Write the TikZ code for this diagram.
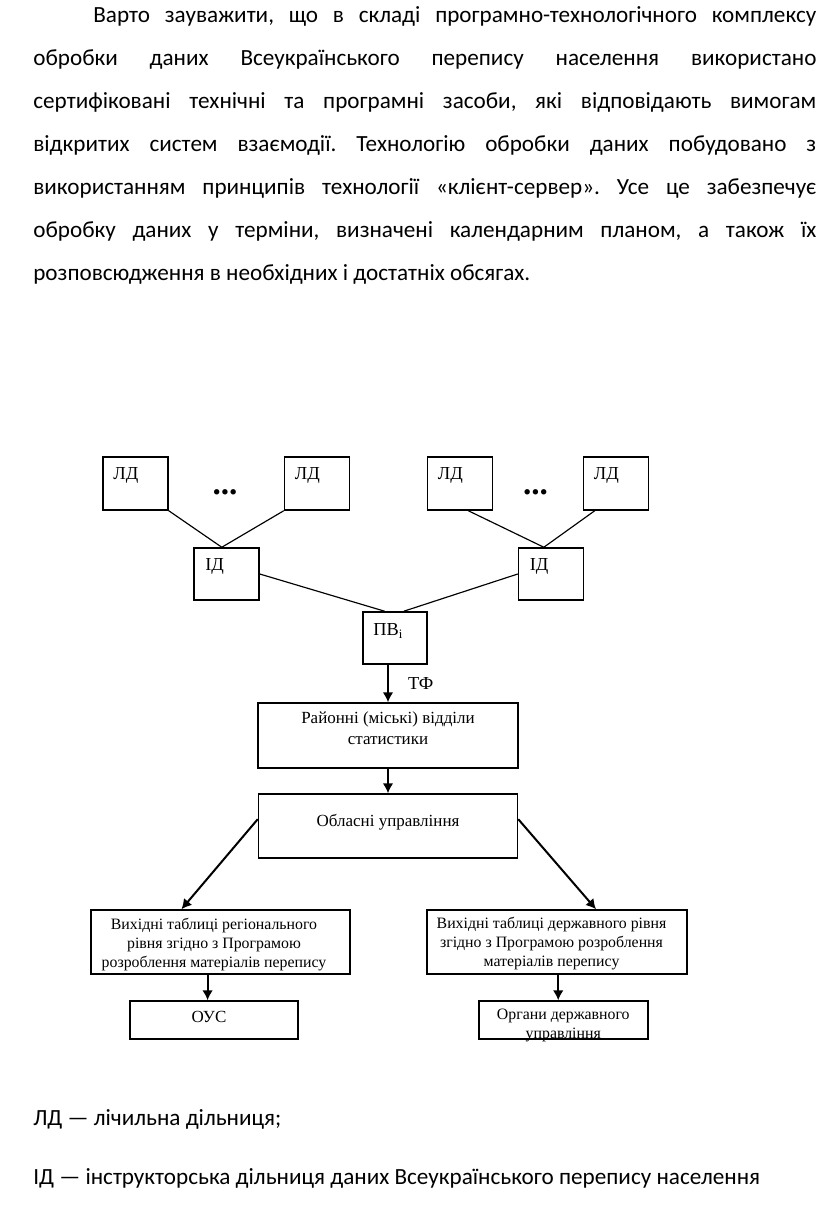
\documentclass[tikz,border=0pt]{standalone}
\usepackage{fontspec}
\setmainfont{Liberation Serif}
\newfontfamily\CARLITO{Carlito}
\frenchspacing
\newcommand{\PX}{0.6pt}
\newcommand{\PAGEW}{816}
\newcommand{\PAGEH}{1224}
\newcommand{\LEFTX}{33}
\newcommand{\INDENTX}{93}
\newcommand{\BOXW}{65}
\newcommand{\BOXH}{53}
\newcommand{\WIDEW}{260}
\newcommand{\WIDEH}{64}
\newcommand{\SMALLW}{168}
\newcommand{\SMALLH}{38}
\newcommand{\LDY}{483.5}
\newcommand{\LDAX}{135.5}
\newcommand{\LDBX}{317}
\newcommand{\LDCX}{460}
\newcommand{\LDDX}{616}
\newcommand{\IDY}{574}
\newcommand{\IDAX}{226.5}
\newcommand{\IDBX}{551}
\newcommand{\PVX}{395}
\newcommand{\PVY}{638}
\newcommand{\CENTREX}{388}
\newcommand{\RVY}{735.5}
\newcommand{\OUY}{826}
\newcommand{\VTY}{942}
\newcommand{\VTAX}{220.5}
\newcommand{\VTBX}{557}
\newcommand{\ENDY}{1020}
\newcommand{\OUSX}{214}
\newcommand{\ORGX}{563.5}
\usetikzlibrary{positioning}
\usetikzlibrary{arrows.meta}

\begin{document}
\begin{tikzpicture}[x=\PX,y=-\PX]
\tikzstyle{every node}=[inner sep=0pt]
\tikzstyle{plainbox}=[draw, line width=0.9pt, minimum width=\BOXW*\PX, minimum height=\BOXH*\PX]
\tikzstyle{widebox}=[draw, line width=0.9pt, minimum width=\WIDEW*\PX, minimum height=\WIDEH*\PX]
\tikzstyle{smallbox}=[draw, line width=0.9pt, minimum width=\SMALLW*\PX, minimum height=\SMALLH*\PX]
\tikzstyle{cornertext}=[anchor=north west, font=\fontsize{11}{13}\selectfont]
\tikzstyle{boxtext}=[align=center, font=\fontsize{10.2}{12.6}\selectfont]
\tikzstyle{tabletext}=[align=center, font=\fontsize{9.5}{11.4}\selectfont]
\tikzstyle{parline}=[anchor=base west, font=\CARLITO\fontsize{13.9}{16.7}\selectfont]
\tikzstyle{dots}=[anchor=base, font=\fontsize{20}{20}\bfseries]
\tikzstyle{link}=[line width=0.7pt]
\tikzstyle{flow}=[line width=1.2pt, -{Latex[length=6pt,width=6.5pt]}]
	\useasboundingbox (0,0) rectangle ({\PAGEW},{\PAGEH});

% Paragraph
	\node[parline] (line1) at ({\INDENTX},22.7) {\hbox to 433.8pt{Варто зауважити, що в складі програмно-технологічного комплексу}};
	\node[parline] (line2) at ({\LEFTX},65.7) {\hbox to 469.8pt{обробки даних Всеукраїнського перепису населення використано}};
	\node[parline] (line3) at ({\LEFTX},108.7) {\hbox to 469.8pt{сертифіковані технічні та програмні засоби, які відповідають вимогам}};
	\node[parline] (line4) at ({\LEFTX},151.7) {\hbox to 469.8pt{відкритих систем взаємодії. Технологію обробки даних побудовано з}};
	\node[parline] (line5) at ({\LEFTX},194.7) {\hbox to 469.8pt{використанням принципів технології «клієнт-сервер». Усе це забезпечує}};
	\node[parline] (line6) at ({\LEFTX},237.7) {\hbox to 469.8pt{обробку даних у терміни, визначені календарним планом, а також їх}};
	\node[parline] (line7) at ({\LEFTX},280.7) {розповсюдження в необхідних і достатніх обсягах.};

% Counting districts
	\node[plainbox] (LDA) at ({\LDAX},{\LDY}) {};
	\node[plainbox] (LDB) at ({\LDBX},{\LDY}) {};
	\node[plainbox] (LDC) at ({\LDCX},{\LDY}) {};
	\node[plainbox] (LDD) at ({\LDDX},{\LDY}) {};
	\node[cornertext] (LDAT) at ({\LDAX-22.5},{\LDY-16.5}) {ЛД};
	\node[cornertext] (LDBT) at ({\LDBX-22.5},{\LDY-16.5}) {ЛД};
	\node[cornertext] (LDCT) at ({\LDCX-22.5},{\LDY-16.5}) {ЛД};
	\node[cornertext] (LDDT) at ({\LDDX-22.5},{\LDY-16.5}) {ЛД};
	\node[dots] (DOTSA) at (225,494) {...};
	\node[dots] (DOTSB) at (535.5,494) {...};

% Instructor districts
	\node[plainbox, minimum height=52*\PX] (IDA) at ({\IDAX},{\IDY}) {};
	\node[plainbox, minimum height=52*\PX] (IDB) at ({\IDBX},{\IDY}) {};
	\node[cornertext] (IDAT) at ({\IDAX-21.5},{\IDY-16}) {ІД};
	\node[cornertext] (IDBT) at ({\IDBX-21.5},{\IDY-16}) {ІД};

	\draw[link] (LDA.south east) -- (IDA.100);
	\draw[link] (LDB.south west) -- (IDA.100);
	\draw[link] (LDC.-73) -- (IDB.105);
	\draw[link] (LDD.-128) -- (IDB.105);

% Processing point
	\node[plainbox, minimum width=64*\PX, minimum height=52*\PX] (PV) at ({\PVX},{\PVY}) {};
	\node[cornertext] (PVT) at ({\PVX-22},{\PVY-15}) {ПВ\textsubscript{i}};
	\draw[link] (IDA.east) -- (PV.111);
	\draw[link] (IDB.west) -- (PV.72);

% Offices
	\node[widebox, minimum height=65*\PX] (RV) at ({\CENTREX},{\RVY}) {};
	\node[boxtext] (RVT) at ({\CENTREX},728.5) {Районні (міські) відділи\\статистики};
	\draw[flow] (PV.south -| RV.north) -- node[right, xshift=19*\PX, font=\fontsize{11}{13}\selectfont] (TF) {ТФ} (RV.north);

	\node[widebox, minimum width=259*\PX] (OU) at ({\CENTREX},{\OUY}) {};
	\node[boxtext] (OUT) at ({\CENTREX},822.7) {Обласні управління};
	\draw[flow] (RV.south) -- (OU.north);

% Output tables
	\node[widebox, minimum width=259*\PX] (VTA) at ({\VTAX},{\VTY}) {};
	\node[tabletext] (VTAT) at (214,944.3) {Вихідні таблиці регіонального\\рівня згідно з Програмою\\розроблення матеріалів перепису};
	\node[widebox] (VTB) at ({\VTBX},{\VTY}) {};
	\node[tabletext] (VTBT) at (551.5,943.3) {Вихідні таблиці державного рівня\\згідно з Програмою розроблення\\матеріалів перепису};
	\draw[flow] (OU.177) -- (VTA.140.6);
	\draw[flow] (OU.3) -- (VTB.40);

% Users
	\node[smallbox] (OUS) at ({\OUSX},{\ENDY}) {};
	\node[boxtext] (OUST) at (209,1017) {ОУС};
	\node[smallbox, minimum width=169*\PX] (ORG) at ({\ORGX},{\ENDY}) {};
	\node[tabletext] (ORGT) at (563.3,1025.5) {Органи державного\\управління};
	\draw[flow] (VTA.south -| OUS.108) -- (OUS.108);
	\draw[flow] (VTB.south -| ORG.105) -- (ORG.105);

% Legend
	\node[parline] (LEGA) at ({\LEFTX},1125.7) {ЛД — лічильна дільниця;};
	\node[parline] (LEGB) at ({\LEFTX},1184.3) {ІД — інструкторська дільниця даних Всеукраїнського перепису населення};

\end{tikzpicture}
\end{document}
